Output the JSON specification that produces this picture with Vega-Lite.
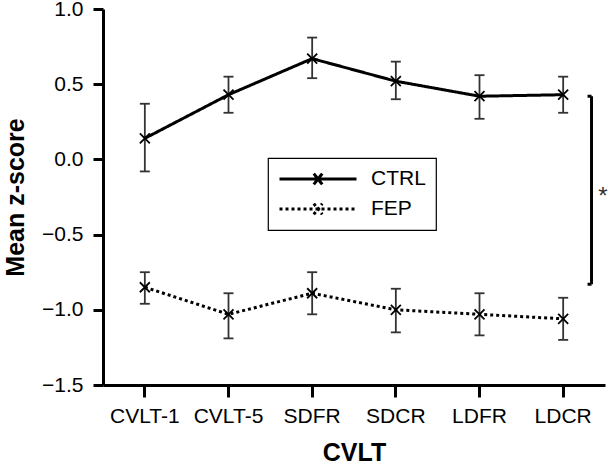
{
  "$schema": "https://vega.github.io/schema/vega-lite/v6.json",
  "width": 502,
  "height": 376,
  "autosize": {"type": "none"},
  "padding": {"left": 103, "top": 9, "right": 3, "bottom": 80},
  "background": "white",
  "config": {
    "view": {"stroke": null},
    "font": "Liberation Sans"
  },
  "datasets": {
    "scores": [
      {"group": "CTRL", "test": "CVLT-1", "mean": 0.14, "lo": -0.08, "hi": 0.37},
      {"group": "CTRL", "test": "CVLT-5", "mean": 0.43, "lo": 0.31, "hi": 0.55},
      {"group": "CTRL", "test": "SDFR", "mean": 0.67, "lo": 0.54, "hi": 0.81},
      {"group": "CTRL", "test": "SDCR", "mean": 0.52, "lo": 0.40, "hi": 0.65},
      {"group": "CTRL", "test": "LDFR", "mean": 0.42, "lo": 0.27, "hi": 0.56},
      {"group": "CTRL", "test": "LDCR", "mean": 0.43, "lo": 0.31, "hi": 0.55},
      {"group": "FEP", "test": "CVLT-1", "mean": -0.85, "lo": -0.96, "hi": -0.75},
      {"group": "FEP", "test": "CVLT-5", "mean": -1.03, "lo": -1.19, "hi": -0.89},
      {"group": "FEP", "test": "SDFR", "mean": -0.89, "lo": -1.03, "hi": -0.75},
      {"group": "FEP", "test": "SDCR", "mean": -1.00, "lo": -1.15, "hi": -0.86},
      {"group": "FEP", "test": "LDFR", "mean": -1.03, "lo": -1.17, "hi": -0.89},
      {"group": "FEP", "test": "LDCR", "mean": -1.06, "lo": -1.20, "hi": -0.92}
    ],
    "bracket": [
      {"test": "LDCR", "lo": -0.83, "hi": 0.42, "mid": -0.25, "label": "*"}
    ]
  },
  "data": {"name": "scores"},
  "encoding": {
    "x": {
      "field": "test",
      "type": "nominal",
      "title": "CVLT",
      "scale": {
        "type": "band",
        "domain": ["CVLT-1", "CVLT-5", "SDFR", "SDCR", "LDFR", "LDCR"],
        "paddingInner": 0,
        "paddingOuter": 0
      },
      "axis": {
        "labelAngle": 0,
        "labelFontSize": 21,
        "labelColor": "black",
        "tickSize": 12,
        "tickWidth": 3,
        "tickColor": "black",
        "domainColor": "black",
        "domainWidth": 3,
        "labelPadding": 8,
        "titleFontSize": 25,
        "titleFontWeight": "bold",
        "titleColor": "black",
        "titlePadding": 14,
        "grid": false,
        "bandPosition": 0.5
      }
    }
  },
  "layer": [
    {
      "mark": {"type": "rule", "color": "#333333", "strokeWidth": 1.8},
      "encoding": {
        "y": {
          "field": "lo",
          "type": "quantitative",
          "title": "Mean z-score",
          "scale": {"domain": [-1.5, 1.0], "nice": false, "zero": false},
          "axis": {
            "values": [-1.5, -1.0, -0.5, 0.0, 0.5, 1.0],
            "format": ".1f",
            "labelFontSize": 21,
            "labelColor": "black",
            "tickSize": 10,
            "tickWidth": 3,
            "tickColor": "black",
            "domainColor": "black",
            "domainWidth": 3,
            "labelPadding": 10,
            "titleFontSize": 25,
            "titleFontWeight": "bold",
            "titleColor": "black",
            "titlePadding": 13,
            "grid": false
          }
        },
        "y2": {"field": "hi"}
      }
    },
    {
      "mark": {"type": "tick", "orient": "horizontal", "size": 10, "thickness": 1.8, "color": "#333333", "opacity": 1},
      "encoding": {
        "y": {"field": "lo", "type": "quantitative", "title": "Mean z-score"}
      }
    },
    {
      "mark": {"type": "tick", "orient": "horizontal", "size": 10, "thickness": 1.8, "color": "#333333", "opacity": 1},
      "encoding": {
        "y": {"field": "hi", "type": "quantitative", "title": "Mean z-score"}
      }
    },
    {
      "mark": {"type": "line", "color": "black", "strokeWidth": 3},
      "encoding": {
        "y": {"field": "mean", "type": "quantitative", "title": "Mean z-score"},
        "strokeDash": {
          "field": "group",
          "type": "nominal",
          "scale": {"domain": ["CTRL", "FEP"], "range": [[1, 0], [3, 3]]},
          "legend": {
            "orient": "none",
            "legendX": 165,
            "legendY": 149,
            "title": null,
            "symbolType": "M-1,0L1,0M-0.11,-0.14L0.11,0.14M-0.11,0.14L0.11,-0.14",
            "symbolSize": 5929,
            "symbolStrokeWidth": 3,
            "symbolStrokeColor": "black",
            "symbolFillColor": "transparent",
            "labelFont": "Liberation Sans",
            "labelFontSize": 21,
            "labelColor": "black",
            "labelOffset": 13,
            "padding": 10,
            "clipHeight": 22,
            "rowPadding": 8,
            "strokeColor": "black",
            "fillColor": "white",
            "encode": {"legend": {"update": {"strokeWidth": {"value": 1.2}}}}
          }
        }
      }
    },
    {
      "mark": {"type": "point", "shape": "M-1,-1L1,1M-1,1L1,-1", "size": 100, "filled": false, "color": "black", "strokeWidth": 1.8, "opacity": 1},
      "encoding": {
        "y": {"field": "mean", "type": "quantitative", "title": "Mean z-score"}
      }
    },
    {
      "data": {"name": "bracket"},
      "mark": {"type": "rule", "color": "black", "strokeWidth": 3},
      "encoding": {
        "x": {"field": "test", "type": "nominal", "bandPosition": 0.839},
        "y": {"field": "lo", "type": "quantitative", "title": "Mean z-score"},
        "y2": {"field": "hi"}
      }
    },
    {
      "data": {"name": "bracket"},
      "mark": {"type": "point", "shape": "M-1,0L0,0", "size": 64, "filled": false, "color": "black", "strokeWidth": 3, "opacity": 1},
      "encoding": {
        "x": {"field": "test", "type": "nominal", "bandPosition": 0.839},
        "y": {"field": "lo", "type": "quantitative", "title": "Mean z-score"}
      }
    },
    {
      "data": {"name": "bracket"},
      "mark": {"type": "point", "shape": "M-1,0L0,0", "size": 64, "filled": false, "color": "black", "strokeWidth": 3, "opacity": 1},
      "encoding": {
        "x": {"field": "test", "type": "nominal", "bandPosition": 0.839},
        "y": {"field": "hi", "type": "quantitative", "title": "Mean z-score"}
      }
    },
    {
      "data": {"name": "bracket"},
      "mark": {"type": "text", "fontSize": 24, "color": "#333333", "align": "center", "baseline": "middle"},
      "encoding": {
        "x": {"field": "test", "type": "nominal", "bandPosition": 0.975},
        "y": {"field": "mid", "type": "quantitative", "title": "Mean z-score"},
        "text": {"field": "label"}
      }
    }
  ]
}
